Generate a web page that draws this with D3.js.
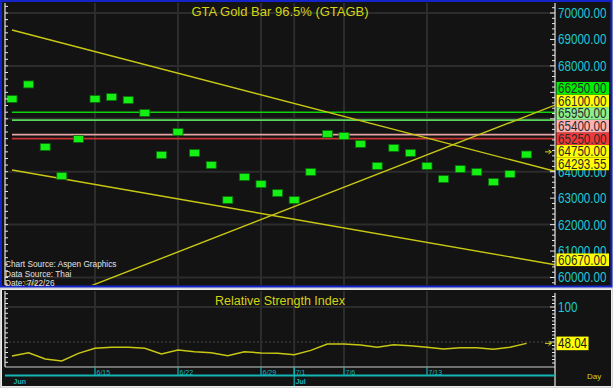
<!DOCTYPE html>
<html>
<head>
<meta charset="utf-8">
<script src="https://cdn.jsdelivr.net/npm/d3@7"></script>
<style>
  html, body { margin: 0; padding: 0; background: #d6d6d6; }
  svg { display: block; font-family: 'Liberation Sans', Arial, sans-serif; }
</style>
</head>
<body>
<svg id="chart" width="613" height="388"></svg>
<script>
// trading days shown on the chart
const dates = ['6/8', '6/9', '6/10', '6/11', '6/12', '6/15', '6/16', '6/17', '6/18', '6/19',
  '6/22', '6/23', '6/24', '6/25', '6/26', '6/29', '6/30', '7/1', '7/2', '7/3',
  '7/6', '7/7', '7/8', '7/9', '7/10', '7/13', '7/14', '7/15', '7/16', '7/17', '7/20', '7/21'];
const closes = [66750, 67300, 64930, 63840, 65240, 66750, 66820, 66710, 66220, 64630,
  65500, 64710, 64250, 62930, 63800, 63530, 63190, 62930, 63990, 65430,
  65350, 65050, 64220, 64900, 64710, 64220, 63720, 64100, 63990, 63610, 63910, 64650];
const rsiValues = [30, 34.7, 25.7, 22.9, 33.8, 41, 42.4, 42.4, 41, 32.9,
  38.6, 36.2, 34.7, 30.4, 36.2, 34.3, 33.8, 31.9, 38, 47,
  47, 45.7, 42.4, 46.2, 44.8, 42.4, 40, 41.9, 41.9, 39.6, 42.4, 48.04];

const weekTicks = ['6/15', '6/22', '6/29', '7/1', '7/6', '7/13'];
const monthTicks = [{ date: '6/8', label: 'Jun' }, { date: '7/1', label: 'Jul' }];
// 65000-67000 sit behind the price tags, so only these labels show
const priceTicks = [60000, 61000, 62000, 63000, 64000, 68000, 69000, 70000];
const priceGrid = [60000, 62000, 64000, 66000, 68000, 70000];
const levelLines = [66250, 65950, 65400, 65250];
const levelTags = [66250, 66100, 65950, 65400, 65250, 64750, 64293.55, 60670];
const lastPrice = 64750;
// trend lines as [day index, price] pairs
const trendLines = [
  [[0, 69357], [31, 64293.55]],
  [[0, 64064], [31, 60670]],
  [[4, 59500], [31, 66100]],
];
const rsiTicks = [100];
const rsiGrid = [100, 50];
const rsiLast = 48.04;
const sourceLines = ['Chart Source: Aspen Graphics', 'Data Source: Thai', 'Date: 7/22/26'];

const svg = d3.select('svg#chart');
const box_main = { left: 5, right: 555, top: 3, bottom: 285 };
const box_rsi = { left: 5, right: 555, top: 291, bottom: 367 };

const styles = {
  bg: '#131313',
  grid: '#2c2c2c',
  axis: '#e6e6e6',
  cyan: '#1ec8d2',
  yellow: '#d4d414',
  trend: '#c8c814',
  marker: { fill: '#14f014', stroke: '#0a6a0a' },
  levels: ['#10d010', '#58d858', '#e4a4a4', '#c83232'],
  tags: ['#00ee00', '#ffff00', '#8cf08c', '#ffb2b2', '#f03a3a', '#ffff00', '#ffff00', '#ffff00'],
};

const x = d3.scaleLinear().domain([0, dates.length - 1]).range([12, 526.6]);
const y = d3.scaleLinear().domain([60000, 70000]).range([277.5, 13]);
const y_rsi = d3.scaleLinear().domain([50, 100]).range([342, 307]);
const xi = d => x(dates.indexOf(d));

// squeeze text horizontally around its x anchor (the source font is narrow)
function condense(sel, k) {
  sel.attr('transform', function () {
    const x0 = +this.getAttribute('x');
    return `translate(${x0 * (1 - k)},0) scale(${k},1)`;
  });
}

function drawFrames() {
  svg.append('rect').attr('width', 613).attr('height', 388).attr('fill', '#d6d6d6');
  svg.append('rect')
    .attr('x', 1).attr('y', 1).attr('width', 610.5).attr('height', 285.5)
    .attr('fill', styles.bg).attr('stroke', '#1424c8').attr('stroke-width', 2);
  svg.append('rect')
    .attr('x', 1.5).attr('y', 289.5).attr('width', 610).attr('height', 97)
    .attr('fill', styles.bg).attr('stroke', '#ececec').attr('stroke-width', 1);

  const defs = svg.append('defs');
  defs.append('clipPath').attr('id', 'clip_main').append('rect')
    .attr('x', box_main.left).attr('y', box_main.top)
    .attr('width', box_main.right - box_main.left).attr('height', box_main.bottom - box_main.top);
  defs.append('clipPath').attr('id', 'clip_rsi').append('rect')
    .attr('x', box_rsi.left).attr('y', box_rsi.top)
    .attr('width', box_rsi.right - box_rsi.left).attr('height', box_rsi.bottom - box_rsi.top);
}

function drawVerticalGrid(g, box) {
  const idx = weekTicks.map(d => xi(d));
  g.selectAll('line.vgrid')
    .data(idx)
    .enter()
    .append('line')
    .attr('class', 'vgrid')
    .attr('x1', d => d).attr('x2', d => d)
    .attr('y1', box.top).attr('y2', box.bottom)
    .attr('stroke', styles.grid).attr('stroke-width', 2);
}

function drawArrow(ypos) {
  svg.append('path')
    .attr('d', `M545,${ypos}H551M548.5,${ypos - 2}L551.5,${ypos}L548.5,${ypos + 2}`)
    .attr('fill', 'none').attr('stroke', styles.yellow).attr('stroke-width', 1);
}

function drawMainPanel() {
  const g = svg.append('g').attr('clip-path', 'url(#clip_main)');

  g.selectAll('line.hgrid')
    .data(priceGrid)
    .enter()
    .append('line')
    .attr('class', 'hgrid')
    .attr('x1', box_main.left).attr('x2', box_main.right)
    .attr('y1', d => y(d)).attr('y2', d => y(d))
    .attr('stroke', styles.grid).attr('stroke-width', 2);
  drawVerticalGrid(g, box_main);

  g.selectAll('line.level')
    .data(levelLines)
    .enter()
    .append('line')
    .attr('class', 'level')
    .attr('x1', x(0)).attr('x2', box_main.right)
    .attr('y1', d => y(d)).attr('y2', d => y(d))
    .attr('stroke', (d, i) => styles.levels[i]).attr('stroke-width', 1.6);

  // trend lines are extended up to the right edge of the plot
  const idx_right = x.invert(box_main.right);
  g.selectAll('line.trend')
    .data(trendLines)
    .enter()
    .append('line')
    .attr('class', 'trend')
    .attr('x1', d => x(d[0][0])).attr('y1', d => y(d[0][1]))
    .attr('x2', x(idx_right))
    .attr('y2', (d) => {
      const slope = (d[1][1] - d[0][1]) / (d[1][0] - d[0][0]);
      return y(d[0][1] + slope * (idx_right - d[0][0]));
    })
    .attr('stroke', styles.trend).attr('stroke-width', 1.4);

  g.selectAll('rect.close')
    .data(closes)
    .enter()
    .append('rect')
    .attr('class', 'close')
    .attr('x', (d, i) => x(i) - 5).attr('y', d => y(d) - 3.5)
    .attr('width', 10).attr('height', 7)
    .attr('fill', styles.marker.fill).attr('stroke', styles.marker.stroke).attr('stroke-width', 0.8);

  // left axis
  svg.append('line')
    .attr('x1', box_main.left).attr('x2', box_main.left)
    .attr('y1', box_main.top).attr('y2', box_main.bottom)
    .attr('stroke', styles.axis).attr('stroke-width', 1.2);
  svg.selectAll('line.ltick_main')
    .data(d3.range(59750, 70500, 250).filter(v => y(v) > box_main.top && y(v) < box_main.bottom))
    .enter()
    .append('line')
    .attr('class', 'ltick_main')
    .attr('x1', box_main.left).attr('x2', box_main.left + 3)
    .attr('y1', d => y(d)).attr('y2', d => y(d))
    .attr('stroke', styles.axis).attr('stroke-width', 1);

  // right axis
  svg.append('line')
    .attr('x1', box_main.right).attr('x2', box_main.right)
    .attr('y1', box_main.top).attr('y2', box_main.bottom)
    .attr('stroke', styles.axis).attr('stroke-width', 1.2);
  svg.selectAll('line.rtick_main')
    .data(d3.range(59800, 70400, 200).filter(v => y(v) > box_main.top && y(v) < box_main.bottom))
    .enter()
    .append('line')
    .attr('class', 'rtick_main')
    .attr('x1', d => (d % 1000 === 0 ? box_main.right - 5 : box_main.right - 3)).attr('x2', box_main.right)
    .attr('y1', d => y(d)).attr('y2', d => y(d))
    .attr('stroke', styles.axis).attr('stroke-width', 1);

  svg.selectAll('text.price_tick')
    .data(priceTicks)
    .enter()
    .append('text')
    .attr('class', 'price_tick')
    .attr('x', 558).attr('y', d => y(d) + 5)
    .attr('fill', styles.cyan)
    .style('font-size', '14px')
    .text(d => d3.format('.2f')(d))
    .call(condense, 0.83);

  // price tags stacked upward so they never overlap
  const tag_h = 12.6;
  const tags = levelTags.map((v, i) => ({ v, i, ty: y(v) })).sort((a, b) => b.ty - a.ty);
  for (let k = 1; k < tags.length; k++) {
    if (tags[k].ty > tags[k - 1].ty - tag_h) tags[k].ty = tags[k - 1].ty - tag_h;
  }
  const tag = svg.selectAll('g.tag')
    .data(tags)
    .enter()
    .append('g')
    .attr('class', 'tag');
  tag.append('rect')
    .attr('x', 556.5).attr('y', d => d.ty - tag_h / 2)
    .attr('width', 52.5).attr('height', tag_h)
    .attr('fill', d => styles.tags[d.i]);
  tag.append('text')
    .attr('x', 558).attr('y', d => d.ty + 5)
    .attr('fill', '#2a2a2a')
    .style('font-size', '14px')
    .text(d => d3.format('.2f')(d.v))
    .call(condense, 0.83);

  drawArrow(y(lastPrice));

  svg.append('text')
    .attr('x', (box_main.left + box_main.right) / 2).attr('y', 15.5)
    .attr('text-anchor', 'middle')
    .attr('fill', styles.yellow)
    .style('font-size', '13px')
    .text('GTA Gold Bar 96.5% (GTAGB)');

  svg.append('text')
    .attr('x', 24).attr('y', 285)
    .attr('fill', '#a8a800')
    .style('font-size', '6px')
    .text('Gold');

  svg.selectAll('text.source')
    .data(sourceLines)
    .enter()
    .append('text')
    .attr('class', 'source')
    .attr('x', 5).attr('y', (d, i) => 267 + i * 9.6)
    .attr('fill', '#e2e2e2')
    .style('font-size', '9.5px')
    .text(d => d)
    .call(condense, 0.87);
}

function drawRsiPanel() {
  const g = svg.append('g').attr('clip-path', 'url(#clip_rsi)');
  g.selectAll('line.rgrid')
    .data(rsiGrid)
    .enter()
    .append('line')
    .attr('class', 'rgrid')
    .attr('x1', box_rsi.left).attr('x2', box_rsi.right)
    .attr('y1', d => y_rsi(d)).attr('y2', d => y_rsi(d))
    .attr('stroke', (d, i) => (i === 0 ? styles.grid : '#4a4a4a'))
    .attr('stroke-width', (d, i) => (i === 0 ? 2 : 1))
    .attr('stroke-dasharray', (d, i) => (i === 0 ? null : '2,2'));
  drawVerticalGrid(g, box_rsi);

  const line = d3.line()
    .x((d, i) => x(i))
    .y(d => y_rsi(d));
  g.append('path')
    .datum(rsiValues)
    .attr('d', line)
    .attr('fill', 'none')
    .attr('stroke', styles.trend)
    .attr('stroke-width', 1.5);

  svg.append('text')
    .attr('x', (box_rsi.left + box_rsi.right) / 2).attr('y', 305)
    .attr('text-anchor', 'middle')
    .attr('fill', styles.yellow)
    .style('font-size', '12.5px')
    .text('Relative Strength Index');

  // axes of the rsi panel
  svg.append('line')
    .attr('x1', box_rsi.left).attr('x2', box_rsi.left)
    .attr('y1', box_rsi.top).attr('y2', box_rsi.bottom)
    .attr('stroke', styles.axis).attr('stroke-width', 1.2);
  svg.selectAll('line.ltick_rsi')
    .data(d3.range(21, 125, 7).filter(v => y_rsi(v) > box_rsi.top + 2 && y_rsi(v) < box_rsi.bottom))
    .enter()
    .append('line')
    .attr('class', 'ltick_rsi')
    .attr('x1', box_rsi.left).attr('x2', box_rsi.left + 3)
    .attr('y1', d => y_rsi(d)).attr('y2', d => y_rsi(d))
    .attr('stroke', styles.axis).attr('stroke-width', 1);
  svg.append('line')
    .attr('x1', box_rsi.left).attr('x2', box_rsi.right)
    .attr('y1', box_rsi.bottom).attr('y2', box_rsi.bottom)
    .attr('stroke', '#cfcfcf').attr('stroke-width', 1.2);
  svg.append('line')
    .attr('x1', box_rsi.right).attr('x2', box_rsi.right)
    .attr('y1', box_rsi.top + 2).attr('y2', 386)
    .attr('stroke', styles.axis).attr('stroke-width', 1.2);
  svg.selectAll('line.rtick_rsi')
    .data(d3.range(20, 125, 5).filter(v => y_rsi(v) > box_rsi.top + 4 && y_rsi(v) < box_rsi.bottom - 2))
    .enter()
    .append('line')
    .attr('class', 'rtick_rsi')
    .attr('x1', d => (d % 50 === 0 ? box_rsi.right - 5 : box_rsi.right - 3)).attr('x2', box_rsi.right)
    .attr('y1', d => y_rsi(d)).attr('y2', d => y_rsi(d))
    .attr('stroke', styles.axis).attr('stroke-width', 1);

  svg.selectAll('text.rsi_tick')
    .data(rsiTicks)
    .enter()
    .append('text')
    .attr('class', 'rsi_tick')
    .attr('x', 558).attr('y', d => y_rsi(d) + 5)
    .attr('fill', styles.cyan)
    .style('font-size', '14px')
    .text(d => d)
    .call(condense, 0.83);

  svg.append('rect')
    .attr('x', 556.5).attr('y', y_rsi(rsiLast) - 6.8)
    .attr('width', 32).attr('height', 13.6)
    .attr('fill', '#ffff00');
  svg.append('text')
    .attr('x', 558).attr('y', y_rsi(rsiLast) + 5)
    .attr('fill', '#1a1a1a')
    .style('font-size', '14px')
    .text(d3.format('.2f')(rsiLast))
    .call(condense, 0.83);
  drawArrow(y_rsi(rsiLast));
}

function drawTimeAxis() {
  const base = 375.5;
  svg.append('line')
    .attr('x1', box_rsi.left).attr('x2', box_rsi.right)
    .attr('y1', base).attr('y2', base)
    .attr('stroke', '#14b4b4').attr('stroke-width', 2);

  svg.selectAll('line.week_tick')
    .data(weekTicks)
    .enter()
    .append('line')
    .attr('class', 'week_tick')
    .attr('x1', d => xi(d)).attr('x2', d => xi(d))
    .attr('y1', box_rsi.bottom).attr('y2', base)
    .attr('stroke', '#14b4b4').attr('stroke-width', 1.2);
  svg.selectAll('text.week_label')
    .data(weekTicks)
    .enter()
    .append('text')
    .attr('class', 'week_label')
    .attr('x', d => xi(d) + 1.5).attr('y', base - 1)
    .attr('fill', '#19b9b9')
    .style('font-size', '7px')
    .text(d => d);

  svg.selectAll('line.month_tick')
    .data(monthTicks.filter(d => dates.indexOf(d.date) > 0))
    .enter()
    .append('line')
    .attr('class', 'month_tick')
    .attr('x1', d => xi(d.date)).attr('x2', d => xi(d.date))
    .attr('y1', box_rsi.bottom).attr('y2', 386)
    .attr('stroke', '#14b4b4').attr('stroke-width', 1.2);
  svg.selectAll('text.month_label')
    .data(monthTicks)
    .enter()
    .append('text')
    .attr('class', 'month_label')
    .attr('x', d => xi(d.date) + 1.5).attr('y', 383.5)
    .attr('fill', '#19b4b4')
    .style('font-size', '7px')
    .style('font-weight', 'bold')
    .text(d => d.label);

  svg.append('text')
    .attr('x', 587).attr('y', 379)
    .attr('fill', styles.yellow)
    .style('font-size', '8px')
    .text('Day');
}

drawFrames();
drawMainPanel();
drawRsiPanel();
drawTimeAxis();
</script>
</body>
</html>
